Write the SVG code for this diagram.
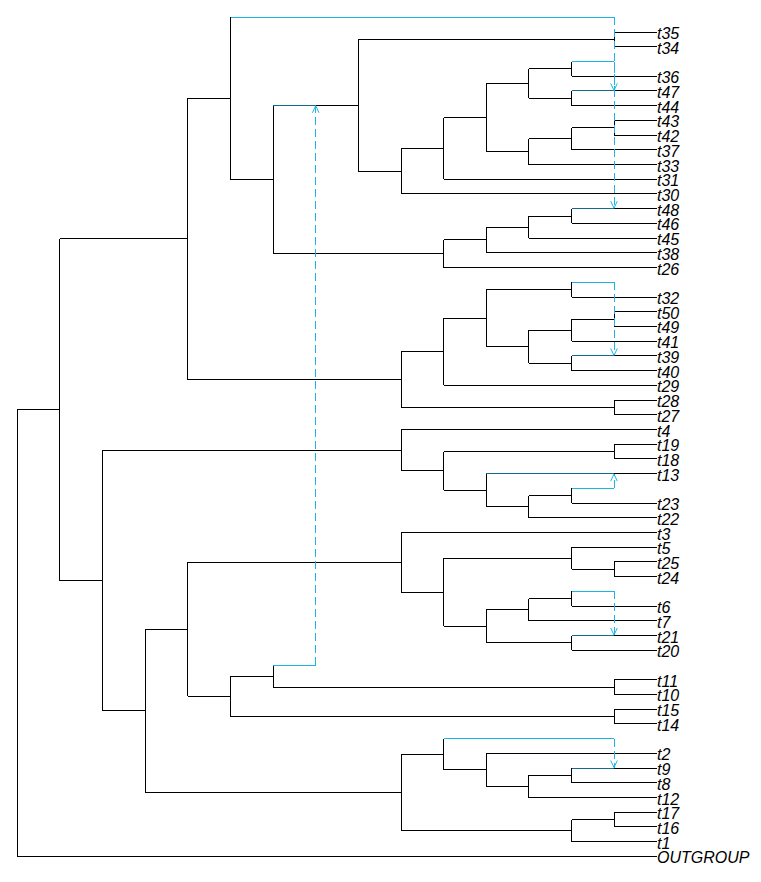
<svg xmlns="http://www.w3.org/2000/svg" width="761" height="882" viewBox="0 0 761 882">
<style>
.br{fill:none;stroke:#000;stroke-width:1;shape-rendering:crispEdges}
.rc{fill:none;stroke:#136B8B;stroke-width:1;shape-rendering:crispEdges}
.dn{fill:none;stroke:#1CB4E8;stroke-width:1;shape-rendering:crispEdges}
.tr{fill:none;stroke:#1CB4E8;stroke-width:1;stroke-dasharray:8 4;marker-end:url(#ah);shape-rendering:crispEdges}
text{font-family:"Liberation Sans",Arial,sans-serif;font-style:italic;font-size:16px;fill:#000}
</style>
<defs>
<marker id="ah" viewBox="-8 -4 9 8" refX="0" refY="0" markerWidth="9" markerHeight="8" markerUnits="userSpaceOnUse" orient="auto">
<path d="M-7,-3.3 L0,0 L-7,3.3" fill="none" stroke="#1CB4E8" stroke-width="1"/>
</marker>
</defs>
<rect width="761" height="882" fill="#fff"/>
<g id="connectors">
<g id="tree">
<path class="br" d="M17.3,409.7V856.3M17.3,409.7H59.9M17.3,856.3H656.6"/>
<path class="br" d="M59.9,238.95V580.5M59.9,238.95H187.8M59.9,580.5H102.6"/>
<path class="br" d="M187.8,98.4V379.55M187.8,98.4H230.5M187.8,379.55H401"/>
<path class="br" d="M230.5,17.3V179.5M230.5,179.5H273.1"/>
<path class="br" d="M273.1,105.25V253.7M315.7,105.25H358.3M273.1,253.7H443.6"/>
<path class="br" d="M358.3,39.35V171.15M358.3,39.35H614M358.3,171.15H401"/>
<path class="br" d="M614,32V46.7M614,32H656.6M614,46.7H656.6"/>
<path class="br" d="M401,148.4V193.9M401,148.4H443.6M401,193.9H656.6"/>
<path class="br" d="M443.6,117.6V179.2M443.6,117.6H486.2M443.6,179.2H656.6"/>
<path class="br" d="M486.2,83.55V151.6M486.2,83.55H528.9M486.2,151.6H528.9"/>
<path class="br" d="M528.9,68.85V98.25M528.9,68.85H571.5M528.9,98.25H571.5"/>
<path class="br" d="M571.5,61.5V76.2M571.5,76.2H656.6"/>
<path class="br" d="M571.5,90.9V105.6M614,90.9H656.6M571.5,105.6H656.6"/>
<path class="br" d="M528.9,138.75V164.5M528.9,138.75H571.5M528.9,164.5H656.6"/>
<path class="br" d="M571.5,127.7V149.8M571.5,127.7H614M571.5,149.8H656.6"/>
<path class="br" d="M614,120.3V135.1M614,120.3H656.6M614,135.1H656.6"/>
<path class="br" d="M443.6,239.95V267.5M443.6,239.95H486.2M443.6,267.5H656.6"/>
<path class="br" d="M486.2,227.1V252.8M486.2,227.1H528.9M486.2,252.8H656.6"/>
<path class="br" d="M528.9,216.05V238.1M528.9,216.05H571.5M528.9,238.1H656.6"/>
<path class="br" d="M571.5,208.7V223.4M614,208.7H656.6M571.5,223.4H656.6"/>
<path class="br" d="M401,351.75V407.35M401,351.75H443.6M401,407.35H614"/>
<path class="br" d="M614,400V414.7M614,400H656.6M614,414.7H656.6"/>
<path class="br" d="M443.6,318.2V385.3M443.6,318.2H486.2M443.6,385.3H656.6"/>
<path class="br" d="M486.2,289.65V346.7M486.2,289.65H571.5M486.2,346.7H528.9"/>
<path class="br" d="M571.5,282.3V297M571.5,297H656.6"/>
<path class="br" d="M528.9,330.1V363.25M528.9,330.1H571.5M528.9,363.25H571.5"/>
<path class="br" d="M571.5,319.05V341.1M571.5,319.05H614M571.5,341.1H656.6"/>
<path class="br" d="M614,311.7V326.4M614,311.7H656.6M614,326.4H656.6"/>
<path class="br" d="M571.5,355.9V370.6M614,355.9H656.6M571.5,370.6H656.6"/>
<path class="br" d="M102.6,450.2V710.85M102.6,450.2H401M102.6,710.85H145.2"/>
<path class="br" d="M401,429.5V470.9M401,429.5H656.6M401,470.9H443.6"/>
<path class="br" d="M443.6,451.55V490.2M443.6,451.55H614M443.6,490.2H486.2"/>
<path class="br" d="M614,444.2V458.9M614,444.2H656.6M614,458.9H656.6"/>
<path class="br" d="M486.2,473.6V506.75M614,473.6H656.6M486.2,506.75H528.9"/>
<path class="br" d="M528.9,495.7V517.8M528.9,495.7H571.5M528.9,517.8H656.6"/>
<path class="br" d="M571.5,488.3V503.1M571.5,503.1H656.6"/>
<path class="br" d="M145.2,629.3V792.4M145.2,629.3H187.8M145.2,792.4H401"/>
<path class="br" d="M187.8,562.4V696.25M187.8,562.4H401M187.8,696.25H230.5"/>
<path class="br" d="M401,532.5V592.3M401,532.5H656.6M401,592.3H443.6"/>
<path class="br" d="M443.6,558.25V626.35M443.6,558.25H571.5M443.6,626.35H486.2"/>
<path class="br" d="M571.5,547.2V569.3M571.5,547.2H656.6M571.5,569.3H614"/>
<path class="br" d="M614,561.9V576.7M614,561.9H656.6M614,576.7H656.6"/>
<path class="br" d="M486.2,609.8V642.9M486.2,609.8H528.9M486.2,642.9H571.5"/>
<path class="br" d="M528.9,598.75V620.8M528.9,598.75H571.5M528.9,620.8H656.6"/>
<path class="br" d="M571.5,591.4V606.1M571.5,606.1H656.6"/>
<path class="br" d="M571.5,635.5V650.3M614,635.5H656.6M571.5,650.3H656.6"/>
<path class="br" d="M230.5,676V716.5M230.5,676H273.1M230.5,716.5H614"/>
<path class="br" d="M273.1,665V687.05M273.1,687.05H614"/>
<path class="br" d="M614,679.7V694.4M614,679.7H656.6M614,694.4H656.6"/>
<path class="br" d="M614,709.1V723.9M614,709.1H656.6M614,723.9H656.6"/>
<path class="br" d="M401,754.2V830.6M401,754.2H443.6M401,830.6H571.5"/>
<path class="br" d="M443.6,738.6V769.85M443.6,769.85H486.2"/>
<path class="br" d="M486.2,753.3V786.4M486.2,753.3H656.6M486.2,786.4H528.9"/>
<path class="br" d="M528.9,775.35V797.5M528.9,775.35H571.5M528.9,797.5H656.6"/>
<path class="br" d="M571.5,768V782.7M614,768H656.6M571.5,782.7H656.6"/>
<path class="br" d="M571.5,819.55V841.6M571.5,819.55H614M571.5,841.6H656.6"/>
<path class="br" d="M614,812.2V826.9M614,812.2H656.6M614,826.9H656.6"/>
</g>
<g id="recipients">
<path class="rc" d="M571.5,90.9H614M571.5,208.7H614M273.1,105.25H315.7M571.5,355.9H614M486.2,473.6H614M571.5,635.5H614M571.5,768H614"/>
</g>
<g id="donors">
<path class="dn" d="M230.5,17.3H614M571.5,61.5H614M571.5,282.3H614M571.5,488.3H614M571.5,591.4H614M273.1,665H315.7M443.6,738.6H614"/>
</g>
<g id="transfers">
<path class="tr" d="M614,17.3V208.2"/>
<path class="tr" d="M614,61.5V90.4"/>
<path class="tr" d="M614,282.3V355.4"/>
<path class="tr" d="M614,488.3V474.1"/>
<path class="tr" d="M614,591.4V635"/>
<path class="tr" d="M315.7,665V105.75"/>
<path class="tr" d="M614,738.6V767.5"/>
</g>
</g>
<g id="tips">
<g id="t35"><text x="657" y="39">t35</text></g>
<g id="t34"><text x="657" y="53.7">t34</text></g>
<g id="t36"><text x="657" y="83.2">t36</text></g>
<g id="t47"><text x="657" y="97.9">t47</text></g>
<g id="t44"><text x="657" y="112.6">t44</text></g>
<g id="t43"><text x="657" y="127.3">t43</text></g>
<g id="t42"><text x="657" y="142.1">t42</text></g>
<g id="t37"><text x="657" y="156.8">t37</text></g>
<g id="t33"><text x="657" y="171.5">t33</text></g>
<g id="t31"><text x="657" y="186.2">t31</text></g>
<g id="t30"><text x="657" y="200.9">t30</text></g>
<g id="t48"><text x="657" y="215.7">t48</text></g>
<g id="t46"><text x="657" y="230.4">t46</text></g>
<g id="t45"><text x="657" y="245.1">t45</text></g>
<g id="t38"><text x="657" y="259.8">t38</text></g>
<g id="t26"><text x="657" y="274.5">t26</text></g>
<g id="t32"><text x="657" y="304">t32</text></g>
<g id="t50"><text x="657" y="318.7">t50</text></g>
<g id="t49"><text x="657" y="333.4">t49</text></g>
<g id="t41"><text x="657" y="348.1">t41</text></g>
<g id="t39"><text x="657" y="362.9">t39</text></g>
<g id="t40"><text x="657" y="377.6">t40</text></g>
<g id="t29"><text x="657" y="392.3">t29</text></g>
<g id="t28"><text x="657" y="407">t28</text></g>
<g id="t27"><text x="657" y="421.7">t27</text></g>
<g id="t4"><text x="657" y="436.5">t4</text></g>
<g id="t19"><text x="657" y="451.2">t19</text></g>
<g id="t18"><text x="657" y="465.9">t18</text></g>
<g id="t13"><text x="657" y="480.6">t13</text></g>
<g id="t23"><text x="657" y="510.1">t23</text></g>
<g id="t22"><text x="657" y="524.8">t22</text></g>
<g id="t3"><text x="657" y="539.5">t3</text></g>
<g id="t5"><text x="657" y="554.2">t5</text></g>
<g id="t25"><text x="657" y="568.9">t25</text></g>
<g id="t24"><text x="657" y="583.7">t24</text></g>
<g id="t6"><text x="657" y="613.1">t6</text></g>
<g id="t7"><text x="657" y="627.8">t7</text></g>
<g id="t21"><text x="657" y="642.5">t21</text></g>
<g id="t20"><text x="657" y="657.3">t20</text></g>
<g id="t11"><text x="657" y="686.7">t11</text></g>
<g id="t10"><text x="657" y="701.4">t10</text></g>
<g id="t15"><text x="657" y="716.1">t15</text></g>
<g id="t14"><text x="657" y="730.9">t14</text></g>
<g id="t2"><text x="657" y="760.3">t2</text></g>
<g id="t9"><text x="657" y="775">t9</text></g>
<g id="t8"><text x="657" y="789.7">t8</text></g>
<g id="t12"><text x="657" y="804.5">t12</text></g>
<g id="t17"><text x="657" y="819.2">t17</text></g>
<g id="t16"><text x="657" y="833.9">t16</text></g>
<g id="t1"><text x="657" y="848.6">t1</text></g>
<g id="OUTGROUP"><text x="657" y="863.3">OUTGROUP</text></g>
</g>
</svg>
